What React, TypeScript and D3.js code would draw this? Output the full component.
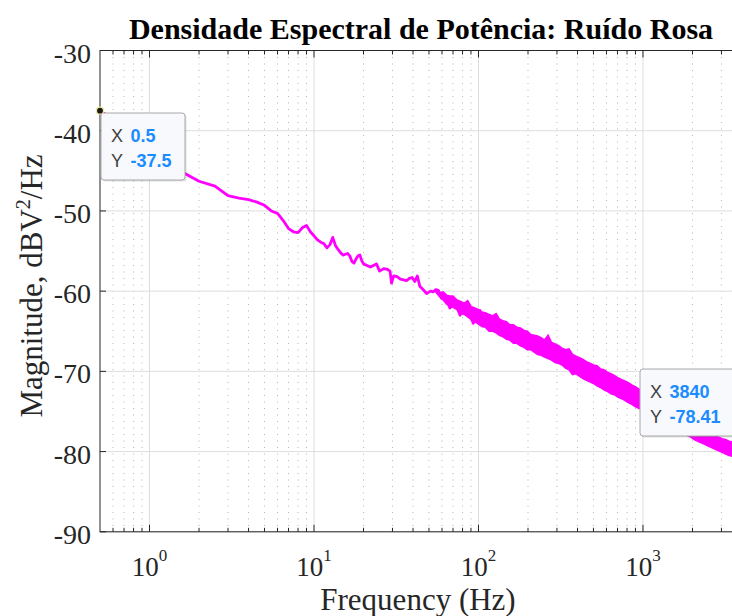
import React from "react";
import * as d3 from "d3";

// Smooth low-frequency part of the PSD (Hz, dBV^2/Hz)
const lineFreq = [0.5, 1, 1.5, 2, 2.5, 3, 3.5, 4, 4.5, 5, 5.5, 6, 6.5, 7, 7.5, 8, 8.5, 9, 9.5, 10,
  10.5, 11, 11.5, 12, 12.5, 13, 13.5, 14, 14.5, 15, 15.5, 16, 16.5, 17, 17.5, 18, 18.5, 19, 19.5, 20,
  21, 22, 23, 24, 25, 26.5, 28, 29, 29.6, 30.5, 32, 33.5, 35, 36.5, 38, 39.5, 41, 42.5, 44, 46, 48.4,
  51, 53, 55, 57, 59.7, 62, 64, 67, 70, 73.8, 77.3, 81, 85, 89, 93, 97, 102, 107, 112];
const lineDb = [-37.5, -41.6, -44.9, -46.3, -46.9, -48.1, -48.4, -48.6, -48.9, -49.3, -50.0, -50.3, -51.2, -52.2, -52.6, -52.7, -52.1, -51.8, -52.6, -53.1,
  -53.6, -53.9, -54.1, -54.6, -54.2, -53.3, -54.3, -54.8, -55.2, -55.5, -55.4, -55.3, -55.6, -56.3, -56.5, -56.0, -55.6, -55.5, -56.2, -56.6,
  -56.8, -57.0, -56.8, -56.6, -57.5, -57.2, -57.3, -57.5, -59.0, -58.1, -58.2, -58.5, -58.6, -58.7, -58.4, -58.3, -58.8, -58.1, -59.4, -59.8, -60.3,
  -60.0, -60.1, -59.8, -59.9, -60.9, -60.8, -61.1, -62.1, -61.7, -61.9, -63.0, -62.2, -61.5, -63.1, -64.0, -62.9, -62.4, -63.8, -64.4];

// Dense noisy part: upper and lower edges of the band
const bandFreq = [55, 58, 61, 64, 67, 70, 74, 78, 82, 86, 90, 95, 100, 105, 110, 116, 122, 128, 134, 141,
  148, 155, 163, 171, 180, 189, 198, 208, 218, 229, 240, 252, 265, 278, 292, 307, 322, 338, 355, 373,
  392, 411, 432, 453, 476, 500, 525, 551, 579, 608, 638, 670, 703, 738, 775, 814, 855, 897, 942, 989,
  1040, 1090, 1145, 1200, 1260, 1325, 1390, 1460, 1530, 1610, 1690, 1775, 1860, 1955, 2050, 2155, 2260, 2375, 2490, 2615,
  2745, 2885, 3030, 3180, 3340, 3500, 3680, 3840, 4000];
const bandTop = [-59.9, -60.2, -60.1, -60.5, -60.6, -60.6, -61.1, -61.3, -61.5, -61.2, -61.9, -62.1, -62.3, -62.6, -62.7, -62.9, -63.1, -62.8, -63.5, -63.7,
  -63.8, -64.2, -64.2, -64.5, -64.6, -64.9, -65.0, -65.4, -65.5, -65.6, -65.8, -66.1, -65.5, -66.4, -66.6, -66.8, -67.1, -67.3, -67.2, -67.9,
  -68.1, -68.3, -68.5, -68.8, -69.0, -69.2, -69.3, -69.7, -69.8, -70.1, -70.3, -70.5, -70.8, -71.0, -71.2, -71.4, -71.7, -71.9, -72.2, -72.5,
  -72.8, -73.0, -73.4, -73.7, -74.0, -74.3, -74.6, -74.9, -75.1, -75.4, -75.7, -76.0, -76.3, -76.6, -76.9, -77.2, -77.3, -77.5, -77.6, -77.8,
  -78.0, -78.2, -78.4, -78.5, -78.7, -78.8, -79.0, -78.4, -79.3];
const bandBottom = [-60.1, -60.7, -61.1, -61.6, -61.8, -62.0, -62.3, -62.8, -62.9, -63.2, -63.5, -63.8, -64.1, -64.4, -64.5, -65.0, -65.0, -65.2, -65.5, -65.7,
  -66.0, -66.1, -66.5, -66.5, -66.8, -67.0, -67.3, -67.3, -67.6, -67.9, -68.0, -68.2, -68.4, -68.6, -68.9, -69.0, -69.2, -69.6, -69.8, -70.4,
  -70.3, -70.6, -70.9, -71.1, -71.3, -71.5, -71.8, -72.0, -72.3, -72.5, -72.8, -72.9, -73.2, -73.4, -73.6, -73.9, -74.1, -74.4, -74.6, -74.8,
  -75.0, -75.3, -75.5, -75.7, -76.0, -76.2, -76.5, -76.7, -77.0, -77.2, -77.5, -77.7, -78.0, -78.2, -78.5, -78.7, -78.9, -79.1, -79.3, -79.5,
  -79.7, -79.9, -80.1, -80.3, -80.5, -80.6, -80.8, -81.0, -81.1];

const xMajorTicks = [1, 10, 100, 1000];
const xTickExp = ["0", "1", "2", "3"];
const yTicks = [-90, -80, -70, -60, -50, -40, -30];

const tip1 = { x: 0.5, y: -37.5, xs: "0.5", ys: "-37.5" };
const tip2 = { x: 3840, y: -78.41, xs: "3840", ys: "-78.41" };

const L = 100, R = 742, T = 50.5, B = 531.8;

export default function App() {
  const x = d3.scaleLog().domain([0.5, 4000]).range([L, R]);
  const y = d3.scaleLinear().domain([-90, -30]).range([B, T]);
  const minor = x.ticks().filter((t) => !xMajorTicks.includes(t) && t > 0.5 && t < 4000);

  const line = d3.line<number>().x((_, i) => x(lineFreq[i])).y((d) => y(d));
  const area = d3.area<number>()
    .x((_, i) => x(bandFreq[i]))
    .y0((_, i) => y(bandBottom[i]))
    .y1((d) => y(d));

  const gridC = "#dedede";
  const axisC = "#262626";
  const serif = "'Liberation Serif', 'Times New Roman', serif";
  const sans = "'Liberation Sans', Arial, Helvetica, sans-serif";

  const tip = (t: typeof tip1, bx: number, by: number, w: number) => (
    <g>
      <rect x={bx + 1.5} y={by + 1.5} width={w} height={67} rx={3} fill="#000" opacity={0.12} />
      <rect x={bx} y={by} width={w} height={67} rx={3} fill="#f8f9fd" stroke="#a8a8a8" strokeWidth={1} />
      <text x={bx + 10} y={by + 29} fontFamily={sans} fontSize={18} fill="#404040">X</text>
      <text x={bx + 29.5} y={by + 29} fontFamily={sans} fontSize={18} fontWeight="bold" fill="#1a8cff">{t.xs}</text>
      <text x={bx + 10} y={by + 54} fontFamily={sans} fontSize={18} fill="#404040">Y</text>
      <text x={bx + 29.5} y={by + 54} fontFamily={sans} fontSize={18} fontWeight="bold" fill="#1a8cff">{t.ys}</text>
    </g>
  );

  return (
    <svg width={732} height={616} style={{ position: "absolute", left: 0, top: 0, background: "#fff" }}>
      <defs>
        <clipPath id="plot">
          <rect x={L} y={T} width={R - L} height={B - T} />
        </clipPath>
      </defs>
      <rect x={0} y={0} width={732} height={616} fill="#fff" />
      {/* minor grid */}
      {minor.map((t) => (
        <line key={"mg" + t} x1={x(t)} x2={x(t)} y1={T} y2={B} stroke="#b4b4b4" strokeWidth={1} strokeDasharray="1 5.5" />
      ))}
      {/* major grid */}
      {xMajorTicks.map((t) => (
        <line key={"gx" + t} x1={x(t)} x2={x(t)} y1={T} y2={B} stroke={gridC} strokeWidth={1} />
      ))}
      {yTicks.map((t) => (
        <line key={"gy" + t} x1={L} x2={R} y1={y(t)} y2={y(t)} stroke={gridC} strokeWidth={1} />
      ))}
      {/* data */}
      <g clipPath="url(#plot)">
        <path d={area(bandTop) || ""} fill="#ff00ff" stroke="#ff00ff" strokeWidth={1.6} strokeLinejoin="miter" />
        <path d={line(lineDb) || ""} fill="none" stroke="#ff00ff" strokeWidth={2.8} strokeLinejoin="round" />
      </g>
      {/* axes box */}
      <rect x={L} y={T} width={R - L} height={B - T} fill="none" stroke={axisC} strokeWidth={1} />
      {/* ticks */}
      {minor.map((t) => (
        <g key={"mt" + t}>
          <line x1={x(t)} x2={x(t)} y1={B} y2={B - 4} stroke={axisC} />
          <line x1={x(t)} x2={x(t)} y1={T} y2={T + 4} stroke={axisC} />
        </g>
      ))}
      {xMajorTicks.map((t) => (
        <g key={"xt" + t}>
          <line x1={x(t)} x2={x(t)} y1={B} y2={B - 7} stroke={axisC} />
          <line x1={x(t)} x2={x(t)} y1={T} y2={T + 7} stroke={axisC} />
        </g>
      ))}
      {yTicks.map((t) => (
        <line key={"yt" + t} x1={L} x2={L + 6} y1={y(t)} y2={y(t)} stroke={axisC} />
      ))}
      {/* tick labels */}
      {xMajorTicks.map((t, i) => (
        <text key={"xl" + t} x={x(t)} y={576} textAnchor="middle" fontFamily={serif} fontSize={27} fill={axisC}>
          10<tspan dy={-15} fontSize={17}>{xTickExp[i]}</tspan>
        </text>
      ))}
      {yTicks.map((t) => (
        <text key={"yl" + t} x={91} y={y(t) + 12} textAnchor="end" fontFamily={serif} fontSize={28} fill={axisC}>
          {String(t)}
        </text>
      ))}
      {/* labels */}
      <text x={418} y={610} textAnchor="middle" fontFamily={serif} fontSize={31} fill={axisC}>Frequency (Hz)</text>
      <text transform="translate(42,286) rotate(-90)" textAnchor="middle" fontFamily={serif} fontSize={31} fill={axisC}>
        Magnitude, dBV<tspan dy={-12} fontSize={20}>2</tspan><tspan dy={12}>/Hz</tspan>
      </text>
      <text x={421} y={39} textAnchor="middle" fontFamily={serif} fontSize={30} fontWeight="bold" fill="#000">
        Densidade Espectral de Potência: Ruído Rosa
      </text>
      {/* data tips */}
      {tip(tip1, 101, 113, 84)}
      <circle cx={x(tip1.x)} cy={y(tip1.y)} r={3.5} fill="#1a1a1a" stroke="#eee8a0" strokeWidth={1.2} />
      {tip(tip2, 640, 369, 96)}
      <circle cx={x(tip2.x)} cy={y(tip2.y)} r={3.5} fill="#1a1a1a" stroke="#eee8a0" strokeWidth={1.2} />
    </svg>
  );
}
